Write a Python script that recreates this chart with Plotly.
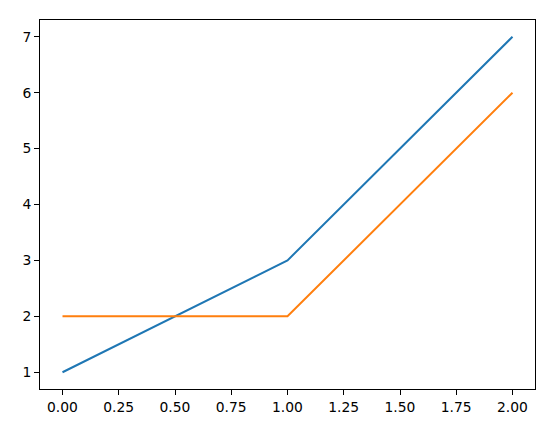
import plotly.graph_objects as go

x_vals = [0, 1, 2]
series_a = [1, 3, 7]
series_b = [2, 2, 6]
x_ticks = [0, 0.25, 0.5, 0.75, 1.0, 1.25, 1.5, 1.75, 2.0]
x_tick_labels = ["0.00", "0.25", "0.50", "0.75", "1.00", "1.25", "1.50", "1.75", "2.00"]
y_ticks = [1, 2, 3, 4, 5, 6, 7]

fig = go.Figure()
fig.add_trace(go.Scatter(x=x_vals, y=series_a, mode="lines",
                         line=dict(color="#1f77b4", width=2), showlegend=False))
fig.add_trace(go.Scatter(x=x_vals, y=series_b, mode="lines",
                         line=dict(color="#ff7f0e", width=2), showlegend=False))

axis_common = dict(showline=True, linecolor="black", linewidth=1, mirror=True,
                   ticks="outside", ticklen=5, tickwidth=1, tickcolor="black",
                   showgrid=False, zeroline=False,
                   tickfont=dict(family="DejaVu Sans", size=13.89, color="black"))

fig.update_layout(
    width=546, height=425,
    margin=dict(l=32, r=19, t=12, b=44),
    paper_bgcolor="white", plot_bgcolor="white",
    xaxis=dict(range=[-0.1, 2.1], tickvals=x_ticks, ticktext=x_tick_labels, **axis_common),
    yaxis=dict(range=[0.7, 7.3], tickvals=y_ticks, **axis_common),
)
fig.write_html("out.html")
